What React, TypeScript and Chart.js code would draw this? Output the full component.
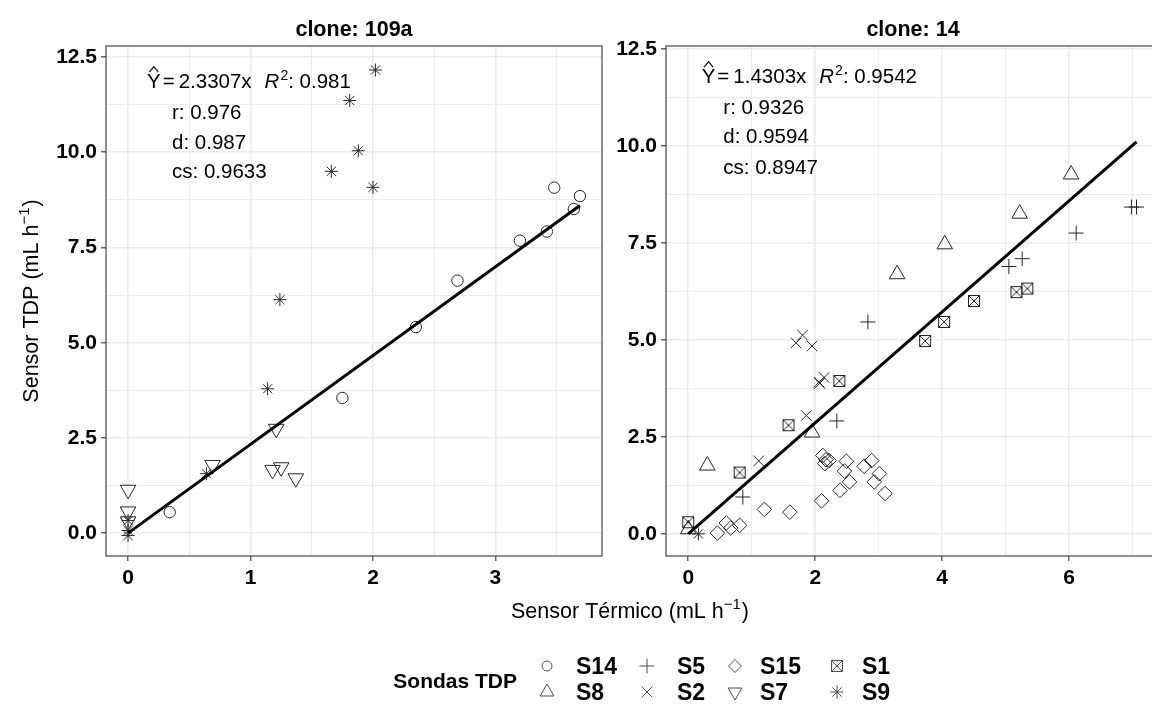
import React, { useEffect, useRef } from 'react';
import { Chart, registerables } from 'chart.js';

Chart.register(...registerables);

const FONT = "'Liberation Sans', Arial, Helvetica, sans-serif";

// ---------------- data: clone 109a ----------------
const s14X_109a = [0.34, 1.75, 2.35, 2.69, 3.2, 3.42, 3.48, 3.64, 3.69];
const s14Y_109a = [0.55, 3.55, 5.41, 6.63, 7.68, 7.92, 9.07, 8.51, 8.85];
const s9X_109a = [0, 0, 0, 0.64, 1.14, 1.24, 1.66, 1.81, 1.88, 2.0, 2.02];
const s9Y_109a = [0.33, 0.07, -0.06, 1.56, 3.79, 6.13, 9.5, 11.36, 10.04, 9.08, 12.16];
const s7X_109a = [0, 0, 0, 0.69, 1.18, 1.21, 1.25, 1.37];
const s7Y_109a = [1.14, 0.57, 0.31, 1.79, 1.66, 2.74, 1.73, 1.44];

// ---------------- data: clone 14 ----------------
const s8X_14 = [0, 0.3, 1.95, 3.29, 4.04, 5.22, 6.03];
const s8Y_14 = [0.12, 1.76, 2.61, 6.69, 7.46, 8.25, 9.26];
const s5X_14 = [0.86, 2.34, 2.83, 5.05, 5.26, 6.11, 6.98, 7.06];
const s5Y_14 = [0.95, 2.91, 5.46, 6.89, 7.09, 7.75, 8.42, 8.42];
const s2X_14 = [1.11, 1.7, 1.8, 1.86, 1.95, 2.06, 2.07, 2.14];
const s2Y_14 = [1.88, 4.92, 5.12, 3.05, 4.84, 3.91, 3.88, 4.03];
const s1X_14 = [0, 0.81, 1.58, 2.38, 3.73, 4.03, 4.5, 5.17, 5.34];
const s1Y_14 = [0.3, 1.58, 2.8, 3.94, 4.97, 5.46, 6.0, 6.23, 6.32];
const s15X_14 = [0.46, 0.6, 0.67, 0.81, 1.2, 1.6, 2.1, 2.12, 2.17, 2.15, 2.22, 2.49, 2.46, 2.54, 2.39, 2.77, 2.89, 2.93, 3.01, 3.1];
const s15Y_14 = [0.02, 0.28, 0.15, 0.22, 0.63, 0.56, 0.85, 2.02, 1.91, 1.81, 1.89, 1.87, 1.62, 1.34, 1.12, 1.74, 1.89, 1.34, 1.55, 1.04];
const s9X_14 = [0.16];
const s9Y_14 = [0.0];

// ---------------- fits & annotations ----------------
const slope109a = 2.3307;
const slope14 = 1.4303;
const fitX109a = [0, 3.69];
const fitX14 = [0, 7.06];
const eq109a = ['2.3307', '0.981'];
const eq14 = ['1.4303', '0.9542'];
const stats109a = ['r: 0.976', 'd: 0.987', 'cs: 0.9633'];
const stats14 = ['r: 0.9326', 'd: 0.9594', 'cs: 0.8947'];

// ---------------- ticks ----------------
const xMajor109a = [0, 1, 2, 3];
const xMajor14 = [0, 2, 4, 6];
const yMajor = [0, 2.5, 5, 7.5, 10, 12.5];

// ---------------- legend ----------------
const legendLabels = ['S14', 'S5', 'S15', 'S1', 'S8', 'S2', 'S7', 'S9'];
const legendShapes = ['circle', 'plus', 'diamond', 'box', 'tri', 'x', 'dtri', 'star'];

const PT = '#262626';

function withMinor(major: number[], min: number, max: number) {
  const step = major[1] - major[0];
  const out: number[] = [];
  for (const m of major) {
    out.push(m);
    out.push(m + step / 2);
  }
  out.push(major[0] - step / 2);
  return out.filter((v) => v >= min && v <= max).sort((a, b) => a - b);
}

function isIn(v: number, arr: number[]) {
  return arr.some((m) => Math.abs(m - v) < 1e-6);
}

const pts = (xs: number[], ys: number[]) => xs.map((x, i) => ({ x, y: ys[i] }));

function makeBox(): HTMLCanvasElement {
  const c = document.createElement('canvas');
  c.width = 14;
  c.height = 14;
  const g = c.getContext('2d')!;
  g.strokeStyle = PT;
  g.lineWidth = 1;
  g.strokeRect(1.5, 1.5, 11, 11);
  g.beginPath();
  g.moveTo(1.5, 1.5);
  g.lineTo(12.5, 12.5);
  g.moveTo(12.5, 1.5);
  g.lineTo(1.5, 12.5);
  g.stroke();
  return c;
}

function pointDs(label: string, xs: number[], ys: number[], style: any, r: number, rot = 0) {
  return {
    type: 'scatter' as const,
    label,
    data: pts(xs, ys),
    pointStyle: style,
    pointRadius: r,
    pointHoverRadius: r,
    pointRotation: rot,
    borderColor: PT,
    backgroundColor: 'rgba(0,0,0,0)',
    pointBorderWidth: 1,
    borderWidth: 1,
    showLine: false,
  };
}

function fitDs(slope: number, xs: number[]) {
  return {
    type: 'line' as const,
    label: 'fit',
    data: xs.map((x) => ({ x, y: slope * x })),
    borderColor: '#000',
    borderWidth: 3,
    pointRadius: 0,
    fill: false,
    tension: 0,
  };
}

function drawEq(ctx: CanvasRenderingContext2D, x0: number, base: number, eq: string[]) {
  ctx.textAlign = 'left';
  ctx.textBaseline = 'alphabetic';
  ctx.fillStyle = '#000';
  ctx.strokeStyle = '#000';
  ctx.font = `20.5px ${FONT}`;
  ctx.fillText('Y', x0, base);
  const yw = ctx.measureText('Y').width;
  const cx = x0 + yw / 2;
  const capTop = base - 14.7;
  ctx.beginPath();
  ctx.moveTo(cx - 4.5, capTop - 1.5);
  ctx.lineTo(cx, capTop - 7);
  ctx.lineTo(cx + 4.5, capTop - 1.5);
  ctx.lineWidth = 1.1;
  ctx.stroke();
  let x = x0 + yw + 2;
  ctx.fillText('=', x, base);
  x += ctx.measureText('=').width + 4;
  const s = eq[0] + 'x';
  ctx.fillText(s, x, base);
  x += ctx.measureText(s).width + 13;
  ctx.font = `italic 20.5px ${FONT}`;
  ctx.fillText('R', x, base);
  x += ctx.measureText('R').width + 1;
  ctx.font = `14px ${FONT}`;
  ctx.fillText('2', x, base - 8);
  x += ctx.measureText('2').width;
  ctx.font = `20.5px ${FONT}`;
  ctx.fillText(': ' + eq[1], x, base);
}

function drawUnitLabel(ctx: CanvasRenderingContext2D, main: string, cx: number, base: number) {
  const big = `21.5px ${FONT}`;
  const small = `15px ${FONT}`;
  ctx.font = big;
  const w1 = ctx.measureText(main).width;
  const w3 = ctx.measureText(')').width;
  ctx.font = small;
  const w2 = ctx.measureText('\u22121').width;
  const total = w1 + w2 + 1 + w3;
  let x = cx - total / 2;
  ctx.textAlign = 'left';
  ctx.textBaseline = 'alphabetic';
  ctx.font = big;
  ctx.fillText(main, x, base);
  x += w1;
  ctx.font = small;
  ctx.fillText('\u22121', x, base - 9);
  x += w2 + 1;
  ctx.font = big;
  ctx.fillText(')', x, base);
}

function drawSym(ctx: CanvasRenderingContext2D, kind: string, x: number, y: number) {
  ctx.beginPath();
  if (kind === 'circle') {
    ctx.arc(x, y, 5, 0, Math.PI * 2);
  } else if (kind === 'plus') {
    ctx.moveTo(x - 7.5, y); ctx.lineTo(x + 7.5, y);
    ctx.moveTo(x, y - 7.5); ctx.lineTo(x, y + 7.5);
  } else if (kind === 'diamond') {
    ctx.moveTo(x, y - 6.5); ctx.lineTo(x + 6.5, y); ctx.lineTo(x, y + 6.5); ctx.lineTo(x - 6.5, y); ctx.closePath();
  } else if (kind === 'box') {
    ctx.rect(x - 5.5, y - 5.5, 11, 11);
    ctx.moveTo(x - 5.5, y - 5.5); ctx.lineTo(x + 5.5, y + 5.5);
    ctx.moveTo(x + 5.5, y - 5.5); ctx.lineTo(x - 5.5, y + 5.5);
  } else if (kind === 'tri') {
    ctx.moveTo(x, y - 8); ctx.lineTo(x + 6.9, y + 4); ctx.lineTo(x - 6.9, y + 4); ctx.closePath();
  } else if (kind === 'dtri') {
    ctx.moveTo(x, y + 8); ctx.lineTo(x + 6.9, y - 4); ctx.lineTo(x - 6.9, y - 4); ctx.closePath();
  } else if (kind === 'x') {
    ctx.moveTo(x - 5.3, y - 5.3); ctx.lineTo(x + 5.3, y + 5.3);
    ctx.moveTo(x + 5.3, y - 5.3); ctx.lineTo(x - 5.3, y + 5.3);
  } else if (kind === 'star') {
    ctx.moveTo(x - 6.5, y); ctx.lineTo(x + 6.5, y);
    ctx.moveTo(x, y - 6.5); ctx.lineTo(x, y + 6.5);
    ctx.moveTo(x - 4.6, y - 4.6); ctx.lineTo(x + 4.6, y + 4.6);
    ctx.moveTo(x + 4.6, y - 4.6); ctx.lineTo(x - 4.6, y + 4.6);
  }
  ctx.stroke();
}

type PanelCfg = {
  id: string;
  title: string;
  eq: string[];
  stats: string[];
  eqX: number;
  eqBase: number;
  statX: number;
  statBases: number[];
  global: boolean;
};

function panelPlugin(cfg: PanelCfg) {
  return {
    id: 'panel_' + cfg.id,
    afterDraw(chart: any) {
      const ctx: CanvasRenderingContext2D = chart.ctx;
      const a = chart.chartArea;
      ctx.save();
      ctx.strokeStyle = '#333';
      ctx.lineWidth = 1.1;
      ctx.strokeRect(a.left, a.top, a.right - a.left, a.bottom - a.top);

      ctx.fillStyle = '#000';
      ctx.font = `bold 21.5px ${FONT}`;
      ctx.textAlign = 'center';
      ctx.textBaseline = 'alphabetic';
      ctx.fillText(cfg.title, (a.left + a.right) / 2, 35.5);

      drawEq(ctx, a.left + cfg.eqX, a.top + cfg.eqBase, cfg.eq);
      ctx.font = `20.5px ${FONT}`;
      ctx.textAlign = 'left';
      cfg.stats.forEach((s, i) => ctx.fillText(s, a.left + cfg.statX, a.top + cfg.statBases[i]));

      if (cfg.global) {
        ctx.fillStyle = '#000';
        // x title
        drawUnitLabel(ctx, 'Sensor T\u00e9rmico (mL h', 630, 618);
        // y title
        ctx.save();
        ctx.translate(30, 301);
        ctx.rotate(-Math.PI / 2);
        drawUnitLabel(ctx, 'Sensor TDP (mL h', 0, 7.5);
        ctx.restore();
        // legend
        ctx.font = `bold 21px ${FONT}`;
        ctx.textAlign = 'right';
        ctx.fillText('Sondas TDP', 517, 687.5);
        const symX = [547, 647, 735, 837];
        const labX = [576, 677, 760, 862];
        const rowY = [666, 692];
        ctx.strokeStyle = '#4d4d4d';
        ctx.lineWidth = 1;
        legendLabels.forEach((lab, i) => {
          const col = i % 4;
          const row = Math.floor(i / 4);
          drawSym(ctx, legendShapes[i], symX[col], rowY[row]);
          ctx.font = `bold 23px ${FONT}`;
          ctx.textAlign = 'left';
          ctx.fillText(lab, labX[col], rowY[row] + 8.2);
        });
      }
      ctx.restore();
    },
  };
}

function scaleOpts(
  axis: 'x' | 'y',
  min: number,
  max: number,
  major: number[],
  fmt: (v: number) => string,
  size: number
) {
  const all = withMinor(major, min, max);
  return {
    type: 'linear' as const,
    min,
    max,
    afterBuildTicks: (s: any) => {
      s.ticks = all.map((v) => ({ value: v }));
    },
    afterFit: (s: any) => {
      if (axis === 'x') s.height = size;
      else s.width = size;
    },
    ticks: {
      autoSkip: false,
      maxRotation: 0,
      padding: axis === 'x' ? 5 : 4,
      color: '#000',
      font: { family: FONT, size: 21, weight: 'bold' as const },
      callback: (v: any) => (isIn(Number(v), major) ? fmt(Number(v)) : ''),
    },
    grid: {
      color: '#EBEBEB',
      lineWidth: (c: any) => (c.tick && isIn(c.tick.value, major) ? 1.6 : 0.9),
      tickColor: (c: any) => (c.tick && isIn(c.tick.value, major) ? '#333' : 'rgba(0,0,0,0)'),
      tickLength: 5,
      tickWidth: 1.1,
      drawTicks: true,
    },
    border: { display: false },
  };
}

const W = 1170;
const H = 717;

export default function App() {
  const refA = useRef<HTMLCanvasElement>(null);
  const refB = useRef<HTMLCanvasElement>(null);

  useEffect(() => {
    document.body.style.margin = '0';
    const box = makeBox();

    const chartB = new Chart(refB.current!, {
      type: 'scatter',
      data: {
        datasets: [
          fitDs(slope14, fitX14),
          pointDs('S8', s8X_14, s8Y_14, 'triangle', 9),
          pointDs('S5', s5X_14, s5Y_14, 'cross', 7.5),
          pointDs('S2', s2X_14, s2Y_14, 'crossRot', 7.5),
          pointDs('S1', s1X_14, s1Y_14, box, 6),
          pointDs('S15', s15X_14, s15Y_14, 'rectRot', 7.3),
          pointDs('S9', s9X_14, s9Y_14, 'star', 6.5),
        ] as any,
      },
      options: {
        responsive: false,
        animation: false,
        devicePixelRatio: 1,
        events: [],
        layout: { padding: { left: 606, right: W - 1162, top: 46, bottom: H - 556 - 44 } },
        plugins: { legend: { display: false }, tooltip: { enabled: false }, title: { display: false } },
        scales: {
          x: scaleOpts('x', -0.35, 7.43, xMajor14, (v) => String(v), 44),
          y: scaleOpts('y', -0.57, 12.57, yMajor, (v) => v.toFixed(1), 60),
        } as any,
      },
      plugins: [
        panelPlugin({
          id: 'b',
          title: 'clone: 14',
          eq: eq14,
          stats: stats14,
          eqX: 35.7,
          eqBase: 37.3,
          statX: 57.3,
          statBases: [68, 96.7, 128],
          global: true,
        }),
      ],
    });

    const chartA = new Chart(refA.current!, {
      type: 'scatter',
      data: {
        datasets: [
          fitDs(slope109a, fitX109a),
          pointDs('S14', s14X_109a, s14Y_109a, 'circle', 5.7),
          pointDs('S7', s7X_109a, s7Y_109a, 'triangle', 9, 180),
          pointDs('S9', s9X_109a, s9Y_109a, 'star', 6.5),
        ] as any,
      },
      options: {
        responsive: false,
        animation: false,
        devicePixelRatio: 1,
        events: [],
        layout: { padding: { left: 0, right: W - 602, top: 46, bottom: H - 556 - 44 } },
        plugins: { legend: { display: false }, tooltip: { enabled: false }, title: { display: false } },
        scales: {
          x: scaleOpts('x', -0.18, 3.87, xMajor109a, (v) => String(v), 44),
          y: scaleOpts('y', -0.6, 12.79, yMajor, (v) => v.toFixed(1), 106),
        } as any,
      },
      plugins: [
        panelPlugin({
          id: 'a',
          title: 'clone: 109a',
          eq: eq109a,
          stats: stats109a,
          eqX: 41,
          eqBase: 42.3,
          statX: 66,
          statBases: [73, 103.3, 132.3],
          global: false,
        }),
      ],
    });

    return () => {
      chartA.destroy();
      chartB.destroy();
    };
  }, []);

  return (
    <div style={{ position: 'relative', width: 1152, height: 717, overflow: 'hidden', background: '#fff' }}>
      <canvas ref={refB} width={W} height={H} style={{ position: 'absolute', left: 0, top: 0, width: W, height: H }} />
      <canvas ref={refA} width={W} height={H} style={{ position: 'absolute', left: 0, top: 0, width: W, height: H }} />
    </div>
  );
}
